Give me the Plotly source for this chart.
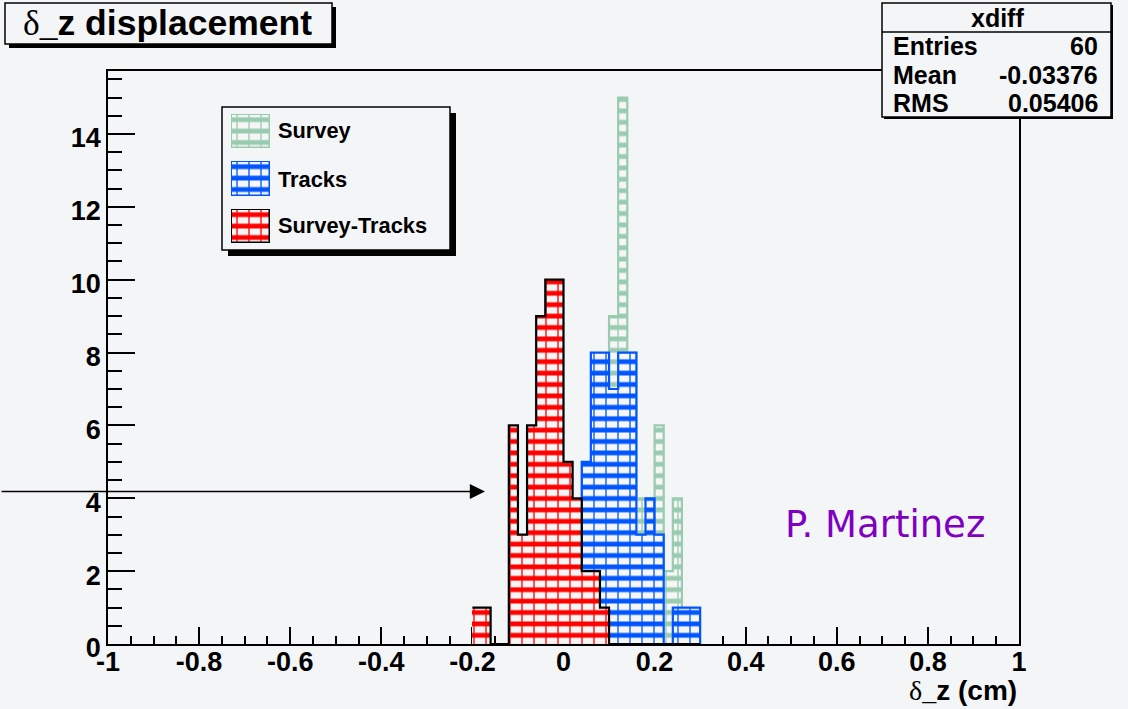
import plotly.graph_objects as go

W, H = 1128, 709
L, R, T, B = 108, 1019, 71, 644

bin_low = [-0.20, -0.18, -0.16, -0.14, -0.12, -0.10, -0.08, -0.06, -0.04, -0.02,
           0.00, 0.02, 0.04, 0.06, 0.08, 0.10, 0.12, 0.14, 0.16, 0.18,
           0.20, 0.22, 0.24, 0.26, 0.28]
survey = [0, 0, 0, 0, 0, 0, 0, 0, 0, 0,
          0, 0, 1, 2, 5, 9, 15, 8, 4, 4,
          6, 2, 4, 0, 0]
tracks = [0, 0, 0, 0, 0, 0, 0, 0, 0, 0,
          1, 2, 5, 8, 8, 7, 8, 8, 3, 4,
          3, 0, 1, 1, 1]
survey_tracks = [1, 1, 0, 0, 6, 3, 6, 9, 10, 10,
                 5, 4, 2, 2, 1, 0, 0, 0, 0, 0,
                 0, 0, 0, 0, 0]
series_names = ["Survey", "Tracks", "Survey-Tracks"]
series_values = [survey, tracks, survey_tracks]
series_colors = ["#99cbb0", "#0055ff", "#ff0000"]
outline_colors = ["#99cbb0", "#0055ff", "#000000"]
x_tickvals = [-1, -0.8, -0.6, -0.4, -0.2, 0, 0.2, 0.4, 0.6, 0.8, 1]
x_ticktext = ["-1", "-0.8", "-0.6", "-0.4", "-0.2", "0", "0.2", "0.4", "0.6", "0.8", "1"]
y_tickvals = [0, 2, 4, 6, 8, 10, 12, 14]
stat_labels = ["Entries", "Mean", "RMS"]
stat_values = ["60", "-0.03376", "0.05406"]

BW = 0.02
BG = "#f4f5f7"
HOLE = "#f6f6f6"
FONT = "Liberation Sans"
Y_MAX = (B - T) / 36.43


def px(x):
    return (x - L) / (R - L)


def py(y):
    return (B - y) / (B - T)


centers = [round(v + BW / 2, 4) for v in bin_low]
edges = bin_low + [round(bin_low[-1] + BW, 4)]

fig = go.Figure()


def hatch_bars(xv, yv, color, xaxis, yaxis, width, outline=None):
    fig.add_trace(go.Bar(x=xv, y=yv, width=width, xaxis=xaxis, yaxis=yaxis,
                         showlegend=False, hoverinfo="skip",
                         marker=dict(color=color, line=dict(width=0),
                                     pattern=dict(shape="-", size=11.4, solidity=0.42,
                                                  fgcolor=color, bgcolor=HOLE, fillmode="replace"))))
    fig.add_trace(go.Bar(x=xv, y=yv, width=width, xaxis=xaxis, yaxis=yaxis,
                         showlegend=False, hoverinfo="skip",
                         marker=dict(color=color,
                                     line=dict(width=2.5 if outline else 0, color=outline or color),
                                     pattern=dict(shape="|", size=12, solidity=0.11,
                                                  fgcolor=color, bgcolor="rgba(0,0,0,0)", fillmode="replace"))))


# each histogram sits on its own overlaid axes so that later ones fully cover earlier ones
layer_axes = [("x", "y"), ("x5", "y5"), ("x6", "y6")]
for (xa, ya), name, vals, col, out in zip(layer_axes, series_names, series_values, series_colors, outline_colors):
    hatch_bars(centers, vals, col, xa, ya, BW)
    fig.add_trace(go.Scatter(x=edges, y=vals + [0], mode="lines", name=name, showlegend=False,
                             xaxis=xa, yaxis=ya, hoverinfo="skip",
                             line=dict(shape="hv", color=out, width=2.2)))
for n in (5, 6):
    fig.update_layout(**{
        f"xaxis{n}": dict(range=[-1, 1], overlaying="x", visible=False, fixedrange=True, anchor=f"y{n}"),
        f"yaxis{n}": dict(range=[0, Y_MAX], overlaying="y", visible=False, fixedrange=True, anchor=f"x{n}"),
    })

# legend swatches: one bar per series, each on a small helper axis
swatch_rows = [(114, 148), (161, 196), (209, 243)]
for i, ((y0, y1), col, out) in enumerate(zip(swatch_rows, series_colors, outline_colors)):
    n = i + 2
    hatch_bars([0], [1], col, f"x{n}", f"y{n}", 1, outline=out)
    fig.update_layout(**{
        f"xaxis{n}": dict(domain=[px(231), px(270)], range=[-0.5, 0.5], visible=False,
                          fixedrange=True, anchor=f"y{n}"),
        f"yaxis{n}": dict(domain=[py(y1), py(y0)], range=[0, 1], visible=False,
                          fixedrange=True, anchor=f"x{n}"),
    })

shapes = []


def box(x0, y0, x1, y1, sx, sy, layer):
    shapes.append(dict(type="rect", xref="paper", yref="paper", x0=px(x0 + sx), x1=px(x1 + sx),
                       y0=py(y0 + sy), y1=py(y1 + sy), fillcolor="black", line=dict(width=0), layer=layer))
    shapes.append(dict(type="rect", xref="paper", yref="paper", x0=px(x0), x1=px(x1),
                       y0=py(y0), y1=py(y1), fillcolor=BG, line=dict(width=1.5, color="black"), layer=layer))


box(5, 3, 332, 44, 4, 4, "above")
box(882, 3, 1111, 117, 2, 2, "above")
box(222, 107, 450, 250, 6, 6, "below")
shapes.append(dict(type="line", xref="paper", yref="paper", x0=px(882), x1=px(1111), y0=py(32), y1=py(32),
                   line=dict(color="black", width=1.5), layer="above"))

ann = []


def text(x, y, s, size, anchor="left", color="black", family=FONT):
    ann.append(dict(xref="paper", yref="paper", x=px(x), y=py(y), text=s, showarrow=False, xanchor=anchor,
                    yanchor="middle", font=dict(family=family, size=size, color=color)))


SYM = '<span style="font-family:Liberation Serif;font-weight:normal">'
text(21, 23, SYM + "δ_</span><b>z displacement</b>", 35.5)
text(1019, 691, SYM + "δ_</span><b>z (cm)</b>", 28, "right")
text(997, 18, "<b>xdiff</b>", 25, "center")
for lab, val, yy in zip(stat_labels, stat_values, [46, 75, 103]):
    text(891, yy, f"<b>{lab}</b>", 25)
    text(1100, yy, f"<b>{val}</b>", 25, "right")
for nm, yy in zip(series_names, [130, 180, 226]):
    text(276, yy, f"<b>{nm}</b>", 21.8)
text(783, 524, "P. Martinez", 37, color="#7f00c0", family="DejaVu Sans")
ann.append(dict(xref="paper", yref="paper", axref="pixel", ayref="pixel",
                x=px(485), y=py(491.5), ax=-487, ay=0, text="", showarrow=True,
                arrowhead=2, arrowsize=1.9, arrowwidth=1.6, arrowcolor="black", standoff=0))

fig.update_layout(
    width=W, height=H, autosize=False, barmode="overlay", bargap=0,
    paper_bgcolor=BG, plot_bgcolor=BG, showlegend=False,
    margin=dict(l=L, r=W - R, t=T, b=H - B, pad=0),
    shapes=shapes, annotations=ann,
    font=dict(family=FONT, color="black"),
    xaxis=dict(range=[-1, 1], tickmode="array", tickvals=x_tickvals, ticktext=x_ticktext,
               ticks="inside", ticklen=17, tickwidth=1.5, tickcolor="black",
               showline=True, linecolor="black", linewidth=1.5, mirror=True, showgrid=False, zeroline=False,
               tickfont=dict(family=FONT, size=27, weight="bold"), ticklabelstandoff=-7, layer="below traces",
               minor=dict(tick0=-1, dtick=0.05, ticks="inside", ticklen=8, tickwidth=1.5,
                          tickcolor="black", showgrid=False)),
    yaxis=dict(range=[0, Y_MAX], tickmode="array", tickvals=y_tickvals,
               ticks="inside", ticklen=27, tickwidth=1.5, tickcolor="black",
               showline=True, linecolor="black", linewidth=1.5, mirror=True, showgrid=False, zeroline=False,
               tickfont=dict(family=FONT, size=27, weight="bold"), ticklabelshift=4, layer="below traces",
               minor=dict(tick0=0, dtick=0.5, ticks="inside", ticklen=14, tickwidth=1.5,
                          tickcolor="black", showgrid=False)),
)

fig.write_html("out.html", config={"displayModeBar": False},
               post_script="document.body.style.margin='0';document.body.style.overflow='hidden';")
